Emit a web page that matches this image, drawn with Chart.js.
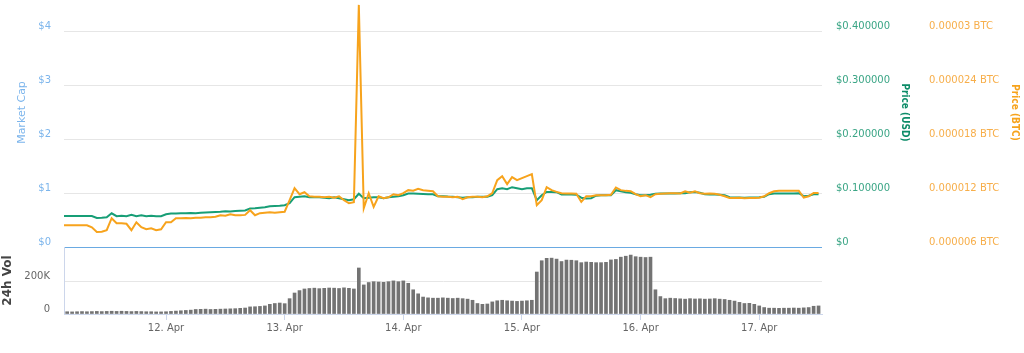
<!DOCTYPE html>
<html>
<head>
<meta charset="utf-8">
<script src="https://cdn.jsdelivr.net/npm/chart.js@4.4.1/dist/chart.umd.min.js"></script>
<style>
    html, body { margin: 0; padding: 0; background: #ffffff; overflow: hidden; }
    body { width: 1024px; height: 353px; position: relative; }
    canvas { position: absolute; left: 0; }
    #priceChart { top: -52px; }
    #volumeChart { top: 217px; }
</style>
</head>
<body>
<canvas id="priceChart" width="1024" height="323"></canvas>
<canvas id="volumeChart" width="1024" height="136"></canvas>
<script>
    "use strict";

    // hourly samples, first one is 11 Apr 03:00
    const startDay = 11 + 3 / 24;
    const dayMin = 11.14;
    const dayMax = 17.529;
    const dayTicks = [12, 13, 14, 15, 16, 17];

    const priceUsd = [
        0.0577,
        0.0577, 0.0577, 0.0577, 0.0577, 0.0577, 0.0577, 0.0540, 0.0544, 0.0553, 0.0627,
        0.0572, 0.0581, 0.0572, 0.0600, 0.0572, 0.0590, 0.0572, 0.0581, 0.0572, 0.0572,
        0.0609, 0.0622, 0.0622, 0.0627, 0.0627, 0.0633, 0.0627, 0.0637, 0.0641, 0.0646,
        0.0652, 0.0655, 0.0665, 0.0661, 0.0668, 0.0674, 0.0678, 0.0715, 0.0721, 0.0730,
        0.0739, 0.0758, 0.0763, 0.0767, 0.0776, 0.0814, 0.0925, 0.0935, 0.0944, 0.0925,
        0.0925, 0.0925, 0.0916, 0.0907, 0.0925, 0.0907, 0.0888, 0.0870, 0.0888, 0.0990,
        0.0907, 0.0916, 0.0925, 0.0925, 0.0907, 0.0925, 0.0935, 0.0944, 0.0963, 0.0994,
        0.0994, 0.0991, 0.0987, 0.0981, 0.0981, 0.0944, 0.0944, 0.0938, 0.0935, 0.0925,
        0.0916, 0.0925, 0.0925, 0.0935, 0.0935, 0.0935, 0.0963, 0.1074, 0.1093, 0.1074,
        0.1112, 0.1093, 0.1074, 0.1093, 0.1093, 0.0870, 0.0963, 0.1024, 0.1024, 0.1019,
        0.0976, 0.0976, 0.0976, 0.0972, 0.0916, 0.0901, 0.0907, 0.0953, 0.0963, 0.0963,
        0.0963, 0.1056, 0.1037, 0.1019, 0.1009, 0.0981, 0.0963, 0.0963, 0.0972, 0.0991,
        0.0994, 0.0994, 0.0994, 0.0994, 0.1000, 0.1000, 0.1019, 0.1024, 0.1009, 0.0981,
        0.0976, 0.0976, 0.0972, 0.0963, 0.0925, 0.0920, 0.0920, 0.0916, 0.0920, 0.0920,
        0.0925, 0.0935, 0.0981, 0.0994, 0.0994, 0.0994, 0.0994, 0.0994, 0.1000, 0.0944,
        0.0953, 0.0981, 0.0981
    ];

    // price in millionths of a BTC
    const priceBtcMicro = [
        8.42,
        8.42, 8.42, 8.42, 8.42, 8.42, 8.20, 7.68, 7.70, 7.87, 9.21,
        8.65, 8.65, 8.59, 7.87, 8.76, 8.20, 7.98, 8.09, 7.87, 7.98,
        8.76, 8.76, 9.21, 9.21, 9.24, 9.21, 9.26, 9.26, 9.32, 9.32,
        9.37, 9.54, 9.49, 9.65, 9.54, 9.54, 9.58, 10.10, 9.54, 9.77,
        9.82, 9.88, 9.82, 9.88, 9.93, 11.22, 12.56, 11.89, 12.11, 11.66,
        11.61, 11.61, 11.55, 11.61, 11.50, 11.66, 11.22, 10.88, 10.99, 33.0,
        10.32, 12.00, 10.47, 11.66, 11.44, 11.55, 11.89, 11.78, 12.00, 12.34,
        12.28, 12.50, 12.34, 12.28, 12.22, 11.66, 11.61, 11.61, 11.55, 11.61,
        11.33, 11.55, 11.61, 11.61, 11.55, 11.66, 12.00, 13.45, 13.90, 13.01,
        13.79, 13.45, 13.68, 13.90, 14.12, 10.66, 11.22, 12.67, 12.34, 12.15,
        12.00, 11.97, 11.97, 11.94, 11.03, 11.66, 11.66, 11.78, 11.78, 11.78,
        11.83, 12.64, 12.34, 12.26, 12.22, 11.89, 11.66, 11.78, 11.55, 11.89,
        11.94, 11.97, 12.00, 12.00, 11.97, 12.22, 12.06, 12.22, 12.00, 11.94,
        11.97, 11.94, 11.83, 11.66, 11.47, 11.47, 11.50, 11.44, 11.47, 11.47,
        11.50, 11.66, 12.00, 12.22, 12.26, 12.26, 12.26, 12.26, 12.28, 11.52,
        11.66, 12.03, 12.03
    ];

    const volume24h = [
        14000,
        14000, 13000, 14000, 15000, 14000, 15000, 16000, 15000, 16000, 17000,
        16000, 17000, 16000, 15000, 16000, 15000, 14000, 14000, 13000, 13000,
        14000, 16000, 18000, 20000, 22000, 24000, 28000, 29000, 30000, 28000,
        29000, 30000, 31000, 32000, 33000, 35000, 37000, 44000, 45000, 47000,
        50000, 60000, 65000, 68000, 64000, 95000, 130000, 145000, 155000, 158000,
        160000, 157000, 159000, 161000, 160000, 158000, 162000, 159000, 155000, 285000,
        180000, 195000, 200000, 198000, 196000, 200000, 205000, 200000, 205000, 190000,
        150000, 125000, 105000, 100000, 98000, 98000, 100000, 98000, 96000, 98000,
        95000, 92000, 85000, 65000, 60000, 62000, 75000, 82000, 85000, 82000,
        80000, 78000, 80000, 82000, 85000, 260000, 330000, 345000, 346000, 340000,
        325000, 334000, 333000, 330000, 318000, 322000, 320000, 318000, 318000, 320000,
        335000, 338000, 352000, 358000, 365000, 355000, 352000, 350000, 352000, 150000,
        108000, 95000, 98000, 96000, 94000, 92000, 95000, 93000, 94000, 92000,
        93000, 95000, 92000, 90000, 85000, 80000, 72000, 65000, 66000, 60000,
        50000, 40000, 36000, 36000, 35000, 36000, 36000, 37000, 36000, 38000,
        40000, 48000, 50000
    ];

    const marketCapTicks = [0, 1, 2, 3, 4, 5];
    const usdTicks = [0, 0.1, 0.2, 0.3, 0.4, 0.5];
    const btcTicks = [6, 12, 18, 24, 30, 36];
    const volumeTicks = [0, 200000];

    const colors = {
        usd: "#179e76",
        usdLabel: "#3aa585",
        usdTitle: "#0d8c68",
        btc: "#f7a31c",
        btcLabel: "#f7ae4a",
        cap: "#7cb5ec",
        zeroLine: "#6aaae2",
        volume: "#737373",
        grid: "#e6e6e6",
        axisLine: "#ccd6eb",
        text: "#666666"
    };

    Chart.defaults.font.family = "'DejaVu Sans', sans-serif";
    Chart.defaults.font.size = 10;
    Chart.defaults.color = colors.text;

    const titleFont = { family: "'DejaVu Sans Condensed', 'DejaVu Sans', sans-serif", size: 10, weight: "bold" };

    function toPoints(values) {
        return values.map((v, i) => ({ x: startDay + i / 24, y: v }));
    }

    function fixedTicks(list) {
        return scale => { scale.ticks = list.map(value => ({ value })); };
    }

    function fixedWidth(width) {
        return scale => { scale.width = width; };
    }

    new Chart(document.getElementById("priceChart"), {
        type: "line",
        data: {
            datasets: [{
                label: "Price (BTC)",
                data: toPoints(priceBtcMicro),
                yAxisID: "yBtc",
                borderColor: colors.btc,
                borderWidth: 2,
                pointRadius: 0,
                tension: 0
            }, {
                label: "Price (USD)",
                data: toPoints(priceUsd),
                yAxisID: "yUsd",
                borderColor: colors.usd,
                borderWidth: 2,
                pointRadius: 0,
                tension: 0
            }]
        },
        options: {
            responsive: false,
            animation: false,
            layout: { padding: { top: 30, bottom: 24, left: 0, right: 0 } },
            plugins: { legend: { display: false }, tooltip: { enabled: false } },
            scales: {
                x: { type: "linear", display: false, min: dayMin, max: dayMax, offset: false },
                yCap: {
                    axis: "y",
                    type: "linear",
                    position: "left",
                    min: 0,
                    max: 5,
                    afterBuildTicks: fixedTicks(marketCapTicks),
                    afterFit: fixedWidth(64),
                    border: { display: false },
                    grid: {
                        drawTicks: false,
                        color: ctx => ctx.tick && ctx.tick.value === 0 ? colors.zeroLine : colors.grid
                    },
                    ticks: { color: colors.cap, padding: 13, labelOffset: -5, callback: v => "$" + v },
                    title: {
                        display: true,
                        text: "Market Cap",
                        color: colors.cap,
                        font: { size: 11 },
                        padding: { top: 16, bottom: 0 }
                    }
                },
                yUsd: {
                    axis: "y",
                    type: "linear",
                    position: "right",
                    min: 0,
                    max: 0.5,
                    afterBuildTicks: fixedTicks(usdTicks),
                    afterFit: fixedWidth(96),
                    border: { display: false },
                    grid: { display: false, drawTicks: false },
                    ticks: {
                        color: colors.usdLabel,
                        padding: 14,
                        labelOffset: -5,
                        callback: v => v === 0 ? "$0" : "$" + v.toFixed(6)
                    },
                    title: {
                        display: true,
                        text: "Price (USD)",
                        color: colors.usdTitle,
                        font: titleFont,
                        padding: { top: 7, bottom: 0 }
                    }
                },
                yBtc: {
                    axis: "y",
                    type: "linear",
                    position: "right",
                    min: 6,
                    max: 36,
                    afterBuildTicks: fixedTicks(btcTicks),
                    afterFit: fixedWidth(106),
                    border: { display: false },
                    grid: { display: false, drawTicks: false },
                    ticks: {
                        color: colors.btcLabel,
                        padding: 11,
                        labelOffset: -5,
                        callback: v => (v / 1e6).toFixed(6).replace(/0+$/, "") + " BTC"
                    },
                    title: {
                        display: true,
                        text: "Price (BTC)",
                        color: colors.btc,
                        font: titleFont,
                        padding: { top: 3, bottom: 0 }
                    }
                }
            }
        }
    });

    new Chart(document.getElementById("volumeChart"), {
        type: "bar",
        data: {
            datasets: [{
                label: "24h Vol",
                data: toPoints(volume24h),
                yAxisID: "yVol",
                backgroundColor: colors.volume,
                barThickness: 3
            }]
        },
        options: {
            responsive: false,
            animation: false,
            layout: { padding: { top: 30, bottom: 0, left: 0, right: 202 } },
            plugins: { legend: { display: false }, tooltip: { enabled: false } },
            scales: {
                x: {
                    type: "linear",
                    min: dayMin,
                    max: dayMax,
                    offset: false,
                    afterBuildTicks: fixedTicks(dayTicks),
                    afterFit: scale => { scale.height = 39; },
                    border: { display: true, color: colors.axisLine },
                    grid: { drawOnChartArea: false, drawTicks: true, tickLength: 6, color: colors.axisLine, offset: false },
                    ticks: { color: colors.text, padding: 2, autoSkip: false, maxRotation: 0, callback: v => v + ". Apr" }
                },
                yVol: {
                    axis: "y",
                    type: "linear",
                    position: "left",
                    min: 0,
                    max: 415000,
                    afterBuildTicks: fixedTicks(volumeTicks),
                    afterFit: fixedWidth(64),
                    border: { display: true, color: colors.axisLine },
                    grid: { drawTicks: false, color: colors.grid },
                    ticks: { color: colors.text, padding: 14, labelOffset: -5, callback: v => v === 0 ? "0" : v / 1000 + "K" },
                    title: {
                        display: true,
                        text: "24h Vol",
                        color: "#444444",
                        font: { size: 12, weight: "bold" },
                        padding: { top: 1, bottom: 0 }
                    }
                }
            }
        }
    });
</script>
</body>
</html>
